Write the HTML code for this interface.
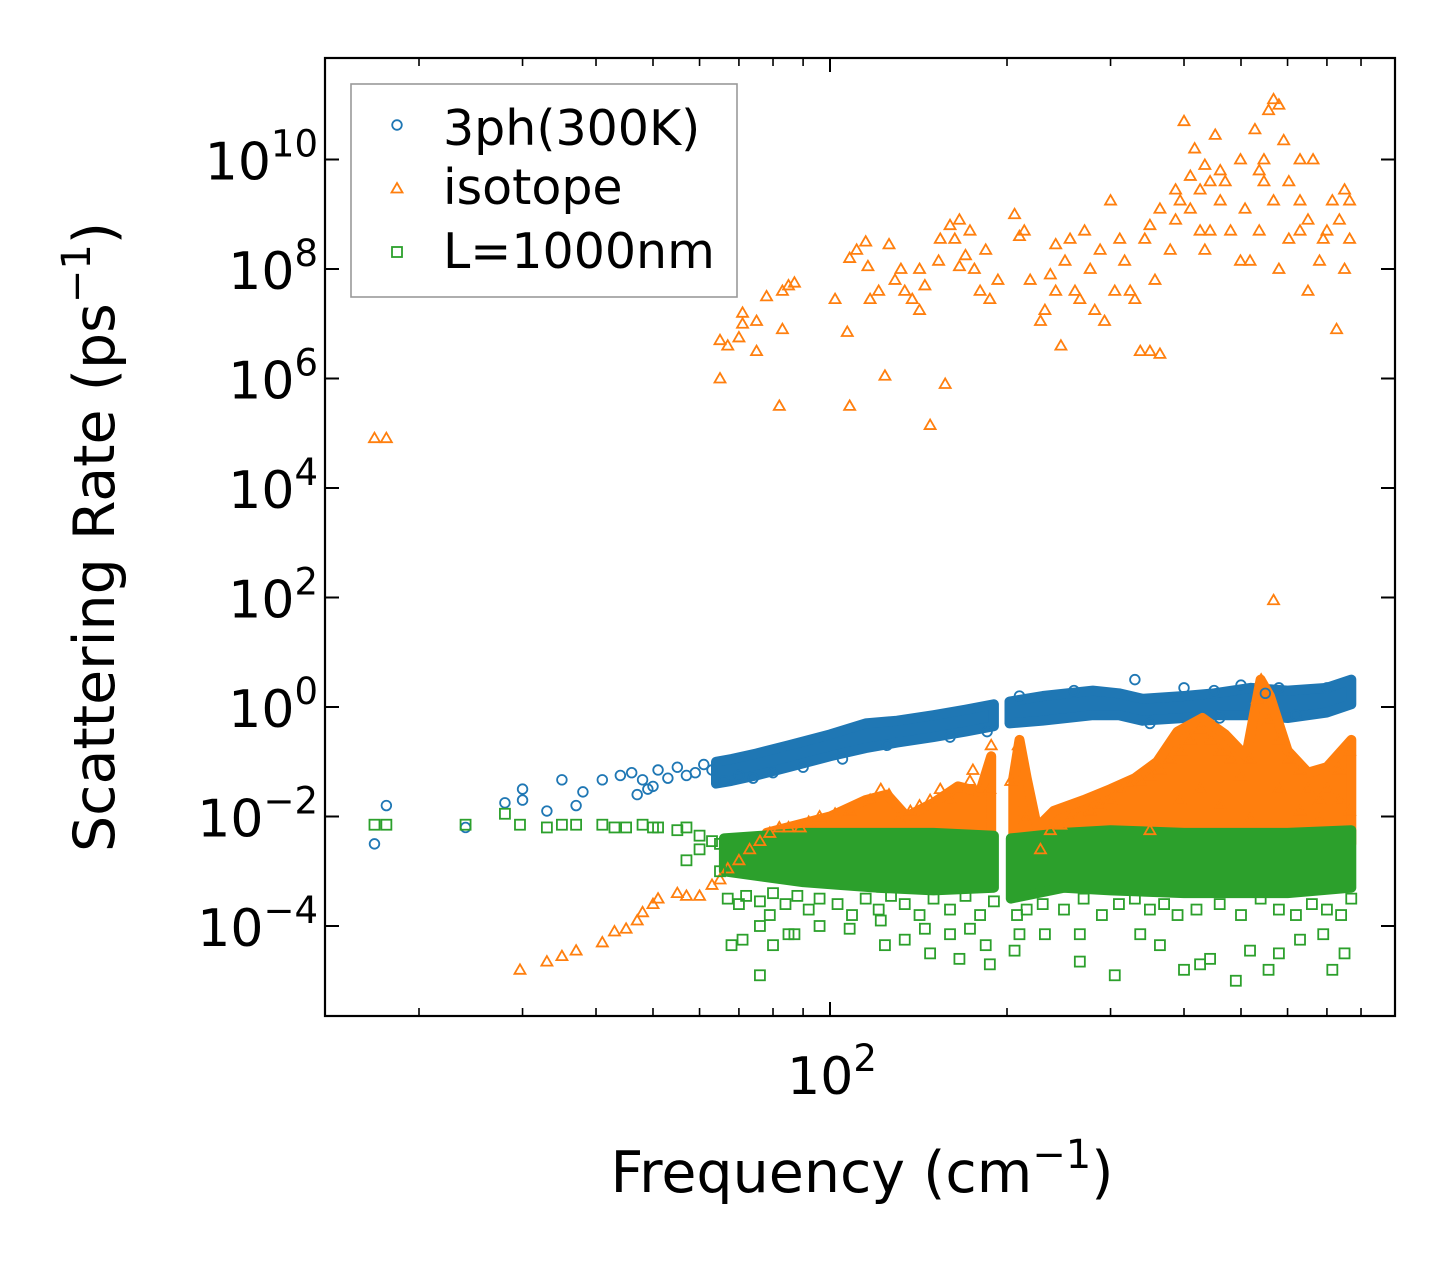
<!DOCTYPE html>
<html><head><meta charset="utf-8">
<style>
html,body{margin:0;padding:0;background:#fff;}
svg{display:block;font-family:"DejaVu Sans","Liberation Sans",sans-serif;}
</style></head>
<body>
<svg id="chart" width="1455" height="1265" viewBox="0 0 1455 1265" xmlns="http://www.w3.org/2000/svg">
<rect x="0" y="0" width="1455" height="1265" fill="#fff"/>
<g id="bands"></g>
<g id="marks"></g>
<rect x="325" y="58" width="1070" height="958" fill="none" stroke="#000" stroke-width="2.2"/>
<g id="axes"></g>
<text x="862" y="1192" font-size="57" text-anchor="middle">Frequency (cm<tspan dy="-24" font-size="40">−1</tspan><tspan dy="24">)</tspan></text>
<text transform="translate(114,537) rotate(-90)" font-size="57" text-anchor="middle">Scattering Rate (ps<tspan dy="-24" font-size="40">−1</tspan><tspan dy="24">)</tspan></text>
<g>
<rect x="351" y="84" width="386" height="213" fill="#fff" stroke="#999" stroke-width="1.6"/>
<circle cx="397" cy="125" r="4.8" fill="none" stroke="#1f77b4" stroke-width="1.8"/>
<text x="443" y="145" font-size="49">3ph(300K)</text>
<polygon points="397,183 402.5,192.5 391.5,192.5" fill="none" stroke="#ff7f0e" stroke-width="1.8"/>
<text x="443" y="204" font-size="49">isotope</text>
<rect x="392" y="247" width="10" height="10" fill="none" stroke="#2ca02c" stroke-width="1.8"/>
<text x="443" y="268" font-size="49">L=1000nm</text>
</g>
</svg>
<script>
// ---- data (frequency in cm^-1, log10 of scattering rate in ps^-1) ----
const yTickExps = [10, 8, 6, 4, 2, 0, -2, -4];
const xMajorTicks = [100];
const xMinorTicks = [20,30,40,50,60,70,80,90,200,300,400,500,600,700,800];

const phFreq = [16.8,17.6,24,28,30,30,33,35,37,38,41,44,46,47,48,49,50,51,53,55,57,59,61,63,330,400,500,580,460,620,66,70,74,80,90,105,125,160,185,210,260,350,450,550,700];
const phLog  = [-2.5,-1.8,-2.2,-1.75,-1.5,-1.7,-1.9,-1.33,-1.8,-1.55,-1.33,-1.25,-1.2,-1.6,-1.33,-1.5,-1.45,-1.15,-1.3,-1.1,-1.25,-1.2,-1.05,-1.15,0.5,0.35,0.4,0.35,-0.2,-0.15,-1.35,-1.25,-1.3,-1.2,-1.1,-0.95,-0.7,-0.55,-0.45,0.2,0.3,-0.3,0.3,0.25,0.35];

const phBandFreq = [64,68,75,85,100,115,130,150,170,190,null,202,230,280,310,340,400,450,520,600,700,770];
const phBandLo   = [-1.4,-1.35,-1.25,-1.1,-0.9,-0.75,-0.65,-0.55,-0.45,-0.35,null,-0.3,-0.25,-0.15,-0.15,-0.25,-0.2,-0.15,-0.15,-0.2,-0.1,0.05];
const phBandHi   = [-1.0,-0.95,-0.85,-0.7,-0.5,-0.3,-0.25,-0.15,-0.05,0.05,null,0.1,0.2,0.3,0.25,0.15,0.2,0.25,0.35,0.3,0.35,0.5];

const isoFreq = [16.8,17.6,65,70,67,71,71,75,75,78,82,83,83,85,87,65,
 102,107,108,111,115,116,117,121,124,126,129,132,134,138,142,145,148,153,157,160,163,166,170,173,176,180,184,187,193,166,154,142,108,
 206,210,214,228,232,237,242,247,251,256,261,266,271,277,282,288,293,300,305,311,317,324,330,337,343,350,357,364,242,219,
 400,410,417,426,434,452,461,470,480,499,508,518,537,547,557,568,580,591,603,630,650,663,680,700,735,750,765,750,727,650,580,499,387,387,394,379,443,434,364,350,410,426,443,461,528,547,568,603,630,690,715,765,630,537,
 568,
 29.7,33,35,37,41,43,45,47,48,50,51,55,57,60,63,65,67,70,73,76,79,82,85,89,92,96,102,108,117,122,126,131,137,142,148,154,160,166,173,180,187,188,175,
 203,209,215,228,237,247,256,266,277,288,300,311,324,337,350,364,379,394,410,426,443,461,480,499,518,533,541,557,580,603,630,650,680,700,735,765,350,394,426,461,518,580,630,680,735,765];
const isoLog = [4.91,4.91,6.7,6.75,6.6,7.0,7.2,7.05,6.5,7.5,5.5,6.9,7.6,7.7,7.75,6.0,
 7.45,6.85,8.2,8.35,8.5,8.05,7.45,7.6,6.05,8.45,7.8,8.0,7.6,7.45,7.25,7.7,5.15,8.15,5.9,8.8,8.55,8.9,8.25,8.7,8.0,7.6,8.35,7.45,7.8,8.05,8.55,8.0,5.5,
 9.0,8.6,8.7,7.05,7.25,7.9,7.6,6.6,8.15,8.55,7.6,7.45,8.7,8.0,7.25,8.35,7.05,9.25,7.6,8.55,8.15,7.6,7.45,6.5,8.55,8.8,7.8,9.1,8.45,7.8,
 10.7,9.7,10.2,9.45,9.9,10.45,9.25,9.6,8.7,10.0,9.1,8.15,8.7,10.0,10.9,11.1,11.0,10.35,9.6,9.25,8.9,10.0,8.15,8.7,8.9,8.0,9.25,9.45,6.9,7.6,8.0,8.15,9.45,8.9,9.25,8.35,8.7,8.35,6.45,6.5,9.1,8.7,9.6,9.8,10.55,9.6,9.25,8.55,8.7,8.55,9.25,8.55,10.0,9.8,
 1.95,
 -4.8,-4.65,-4.55,-4.45,-4.3,-4.1,-4.05,-3.9,-3.75,-3.6,-3.5,-3.4,-3.45,-3.45,-3.25,-3.15,-2.95,-2.8,-2.6,-2.45,-2.3,-2.2,-2.2,-2.2,-2.1,-2.0,-1.95,-1.9,-1.7,-1.5,-1.6,-2.05,-1.9,-1.8,-1.7,-1.5,-1.7,-1.5,-1.35,-1.5,-1.5,-0.7,-1.15,
 -1.35,-0.7,-2.05,-2.6,-2.25,-2.15,-2.05,-1.95,-1.9,-1.8,-1.7,-1.5,-1.4,-1.35,-1.25,-1.15,-0.95,-0.8,-0.6,-0.4,-0.6,-0.8,-0.95,-1.25,-0.95,0.15,0.5,-0.25,-0.6,-0.95,-1.15,-1.5,-1.7,-1.5,-1.15,-0.8,-2.25,-1.7,-1.5,-1.8,-2.05,-1.5,-1.9,-2.05,-1.7,-1.9];

const isoBandFreq = [78,100,115,125,135,150,165,180,188,null,205,210,216,225,240,270,300,330,360,390,430,470,510,540,560,600,650,700,770];
const isoBandLo   = [-2.5,-2.5,-2.5,-2.5,-2.5,-2.5,-2.5,-2.5,-2.5,null,-2.5,-2.5,-2.6,-2.6,-2.5,-2.5,-2.5,-2.5,-2.5,-2.5,-2.5,-2.5,-2.5,-2.5,-2.5,-2.5,-2.5,-2.5,-2.5];
const isoBandHi   = [-2.3,-2.0,-1.7,-1.6,-2.0,-1.75,-1.45,-1.55,-0.9,null,-1.3,-0.6,-1.3,-2.2,-1.9,-1.7,-1.5,-1.3,-1.0,-0.45,-0.2,-0.5,-0.9,0.5,0.2,-0.8,-1.2,-1.1,-0.6];

const gFreq = [16.8,17.6,24,28,29.7,33,35,37,41,43,45,48,50,51,55,57,60,63,65,60,57,65,67,70,68,71,76,79,80,85,87,76,
 122,124,134,145,148,160,166,173,184,187,206,210,232,266,266,305,337,364,400,426,443,490,518,557,580,630,690,715,750,108,96,
 72,76,80,84,88,92,96,103,109,115,121,127,134,142,150,160,170,180,190,208,216,230,250,270,290,310,330,350,370,390,420,460,500,540,580,620,660,700,740,770];
const gLog = [-2.15,-2.15,-2.15,-1.95,-2.15,-2.2,-2.15,-2.15,-2.15,-2.2,-2.2,-2.15,-2.2,-2.2,-2.25,-2.2,-2.35,-2.45,-2.5,-2.6,-2.8,-3.0,-3.5,-3.6,-4.35,-4.25,-4.0,-3.8,-4.35,-4.15,-4.15,-4.9,
 -3.9,-4.35,-4.25,-4.05,-4.5,-4.15,-4.6,-4.05,-4.35,-4.7,-4.45,-4.15,-4.15,-4.15,-4.65,-4.9,-4.15,-4.35,-4.8,-4.7,-4.6,-5.0,-4.45,-4.8,-4.5,-4.25,-4.15,-4.8,-4.5,-4.05,-4.0,
 -3.45,-3.55,-3.4,-3.6,-3.45,-3.7,-3.5,-3.6,-3.8,-3.5,-3.7,-3.45,-3.6,-3.8,-3.5,-3.7,-3.45,-3.8,-3.55,-3.8,-3.7,-3.6,-3.7,-3.5,-3.8,-3.6,-3.5,-3.7,-3.6,-3.8,-3.7,-3.6,-3.8,-3.5,-3.7,-3.8,-3.6,-3.7,-3.8,-3.5];

const gBandFreq = [66,90,120,150,190,null,203,250,300,400,500,600,770];
const gBandLo   = [-3.0,-3.2,-3.3,-3.35,-3.3,null,-3.5,-3.3,-3.35,-3.4,-3.4,-3.4,-3.3];
const gBandHi   = [-2.4,-2.3,-2.3,-2.3,-2.35,null,-2.4,-2.3,-2.25,-2.3,-2.3,-2.3,-2.25];

// ---- scales ----
const NS = "http://www.w3.org/2000/svg";
function xs(f){ return 830 + 588*(Math.log10(f) - 2); }
function ys(l){ return 707 - 54.75*l; }
const C = {blue:"#1f77b4", orange:"#ff7f0e", green:"#2ca02c"};

const bands = document.getElementById("bands");
const marks = document.getElementById("marks");
const axes = document.getElementById("axes");

function drawBand(fr, lo, hi, color, name){
  let seg = [];
  const flush = () => {
    if (seg.length < 2) { seg = []; return; }
    const up = seg.map(i => xs(fr[i]).toFixed(1)+","+ys(hi[i]).toFixed(1));
    const dn = seg.slice().reverse().map(i => xs(fr[i]).toFixed(1)+","+ys(lo[i]).toFixed(1));
    const p = document.createElementNS(NS, "polygon");
    p.setAttribute("points", up.concat(dn).join(" "));
    p.setAttribute("fill", color);
    p.setAttribute("stroke", color);
    p.setAttribute("stroke-width", "10");
    p.setAttribute("stroke-linejoin", "round");
    
    
    bands.appendChild(p);
    seg = [];
  };
  for (let i = 0; i < fr.length; i++) { if (fr[i] === null) flush(); else seg.push(i); }
  flush();
}

function drawPoints(fr, lg, shape, color, name){
  for (let i = 0; i < fr.length; i++) {
    const x = xs(fr[i]), y = ys(lg[i]);
    let el;
    if (shape === "circle") {
      el = document.createElementNS(NS, "circle");
      el.setAttribute("cx", x); el.setAttribute("cy", y); el.setAttribute("r", 4.8);
    } else if (shape === "tri") {
      el = document.createElementNS(NS, "polygon");
      el.setAttribute("points", `${x},${y-5.5} ${x+5.5},${y+4} ${x-5.5},${y+4}`);
    } else {
      el = document.createElementNS(NS, "rect");
      el.setAttribute("x", x-5); el.setAttribute("y", y-5);
      el.setAttribute("width", 10); el.setAttribute("height", 10);
    }
    el.setAttribute("fill", "none");
    el.setAttribute("stroke", color);
    el.setAttribute("stroke-width", "1.8");
    
    
    marks.appendChild(el);
  }
}

drawBand(phBandFreq, phBandLo, phBandHi, C.blue, "3ph-band");
drawBand(isoBandFreq, isoBandLo, isoBandHi, C.orange, "isotope-band");
drawBand(gBandFreq, gBandLo, gBandHi, C.green, "boundary-band");
drawPoints(phFreq, phLog, "circle", C.blue, "3ph-point");
drawPoints(isoFreq, isoLog, "tri", C.orange, "isotope-point");
drawPoints(gFreq, gLog, "square", C.green, "boundary-point");

function line(x1,y1,x2,y2,w,name){
  const l = document.createElementNS(NS, "line");
  l.setAttribute("x1",x1); l.setAttribute("y1",y1); l.setAttribute("x2",x2); l.setAttribute("y2",y2);
  l.setAttribute("stroke","#000"); l.setAttribute("stroke-width",w);
  
  
  axes.appendChild(l);
}

yTickExps.forEach(e => {
  const y = ys(e);
  line(325, y, 339, y, 2, "y-tick");
  line(1381, y, 1395, y, 2, "y-tick-right");
  const t = document.createElementNS(NS, "text");
  t.setAttribute("x", 318); t.setAttribute("y", y + 20);
  t.setAttribute("font-size", "52"); t.setAttribute("text-anchor", "end");
  
  
  const base = document.createElementNS(NS, "tspan"); base.textContent = "10";
  const sup = document.createElementNS(NS, "tspan");
  sup.setAttribute("dy", "-23"); sup.setAttribute("font-size", "37");
  sup.textContent = e < 0 ? "−" + Math.abs(e) : String(e);
  t.appendChild(base); t.appendChild(sup);
  axes.appendChild(t);
});

xMajorTicks.forEach(f => {
  const x = xs(f);
  line(x, 1016, x, 1002, 2, "x-tick");
  line(x, 58, x, 72, 2, "x-tick-top");
  const t = document.createElementNS(NS, "text");
  t.setAttribute("x", x + 2); t.setAttribute("y", 1094);
  t.setAttribute("font-size", "52"); t.setAttribute("text-anchor", "middle");
  
  
  const base = document.createElementNS(NS, "tspan"); base.textContent = "10";
  const sup = document.createElementNS(NS, "tspan");
  sup.setAttribute("dy", "-23"); sup.setAttribute("font-size", "37");
  sup.textContent = String(Math.round(Math.log10(f)));
  t.appendChild(base); t.appendChild(sup);
  axes.appendChild(t);
});
xMinorTicks.forEach(f => {
  const x = xs(f);
  if (x < 325 || x > 1395) return;
  line(x, 1016, x, 1008, 1.6, "x-minor-tick");
  line(x, 58, x, 66, 1.6, "x-minor-tick-top");
});
</script>
</body></html>
